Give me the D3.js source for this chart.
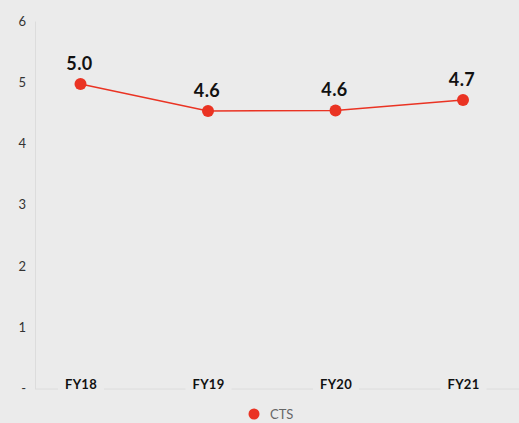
<!DOCTYPE html>
<html>
<head>
<meta charset="utf-8">
<script src="https://cdn.jsdelivr.net/npm/d3@7"></script>
<style>
    body { margin: 0; background: #ebebeb; }
    #plot { width: 519px; height: 423px; }
</style>
</head>
<body>
<div id="plot"></div>
<script>
var years = ["FY18", "FY19", "FY20", "FY21"];
var ctsValues = [4.97, 4.53, 4.54, 4.71];
var ctsLabels = ["5.0", "4.6", "4.6", "4.7"];
var yTicks = [0, 1, 2, 3, 4, 5, 6];
var seriesName = "CTS";

plotLineChart();

function plotLineChart() {
    var width = 519;
    var height = 423;
    var red = "#ea3323";
    var font = "Lato, 'Open Sans', sans-serif";

    var svg = d3.select("#plot").append("svg").attr("width", width).attr("height", height);

    svg.append("rect").attr("width", width).attr("height", height).attr("fill", "#ebebeb");

    var xScale = d3.scalePoint()
        .domain(years)
        .range([80.5, 463]);

    var yScale = d3.scaleLinear()
        .domain([0, 6])
        .range([388.5, 21]);

    // y axis
    var yAxis = svg.append("g")
        .attr("transform", "translate(35,0)")
        .call(d3.axisLeft(yScale).tickValues(yTicks).tickSize(0).tickPadding(9)
            .tickFormat(function(d) { return d === 0 ? "-" : d; }));
    yAxis.select(".domain").attr("stroke", "#dcdcdc");
    yAxis.selectAll("text")
        .attr("font-family", font)
        .attr("font-size", 13)
        .attr("fill", "#333");

    // x axis, labels sit on the baseline with a background box
    var xAxis = svg.append("g")
        .attr("transform", "translate(0,389)")
        .call(d3.axisBottom(xScale).tickSize(0));
    xAxis.select(".domain").attr("d", "M35,0H519").attr("stroke", "#dcdcdc");
    xAxis.selectAll(".tick").insert("rect", "text")
        .attr("x", -23).attr("y", -14).attr("width", 46).attr("height", 15)
        .attr("fill", "#ebebeb");
    xAxis.selectAll("text")
        .attr("y", 0)
        .attr("dy", "0")
        .attr("font-family", font)
        .attr("font-size", 13)
        .attr("font-weight", "bold")
        .attr("letter-spacing", 0.3)
        .attr("fill", "#111");

    var line = d3.line()
        .x(function(d, i) { return xScale(years[i]); })
        .y(function(d) { return yScale(d); });

    svg.append("path")
        .datum(ctsValues)
        .attr("d", line)
        .attr("fill", "none")
        .attr("stroke", red)
        .attr("stroke-width", 1.5);

    svg.append("g")
        .selectAll("circle")
        .data(ctsValues)
        .enter()
        .append("circle")
        .attr("cx", function(d, i) { return xScale(years[i]); })
        .attr("cy", function(d) { return yScale(d); })
        .attr("r", 6)
        .attr("fill", red);

    svg.append("g")
        .selectAll("text")
        .data(ctsValues)
        .enter()
        .append("text")
        .attr("x", function(d, i) { return xScale(years[i]) - 1; })
        .attr("y", function(d) { return yScale(d) - 14; })
        .attr("text-anchor", "middle")
        .attr("font-family", font)
        .attr("font-size", 18)
        .attr("font-weight", "bold")
        .attr("letter-spacing", 0.4)
        .attr("fill", "#111")
        .text(function(d, i) { return ctsLabels[i]; });

    // legend
    var legend = svg.append("g").attr("transform", "translate(254,414)");
    legend.append("circle").attr("r", 5.5).attr("fill", red);
    legend.append("text")
        .attr("x", 16).attr("y", 4.5)
        .attr("font-family", font)
        .attr("font-size", 13)
        .attr("fill", "#666")
        .text(seriesName);
}
</script>
</body>
</html>
